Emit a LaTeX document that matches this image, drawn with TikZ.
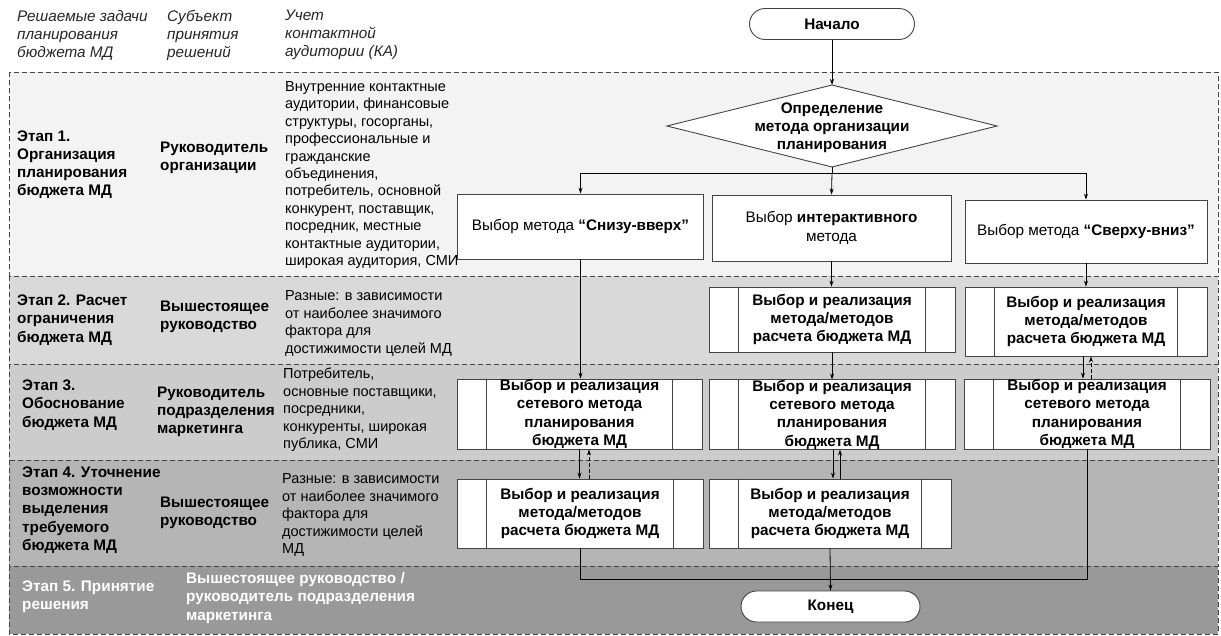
\documentclass[tikz,border=0pt]{standalone}
\usepackage{fontspec}
\setmainfont{Liberation Sans}
\usetikzlibrary{arrows.meta}
\definecolor{bandA}{HTML}{F3F3F3}
\definecolor{bandB}{HTML}{D9D9D9}
\definecolor{bandC}{HTML}{CCCCCC}
\definecolor{bandD}{HTML}{B5B5B5}
\definecolor{bandE}{HTML}{999999}
\definecolor{edge}{HTML}{444444}
\tikzset{
  band/.style={draw=edge, line width=0.8pt, dash pattern=on 5pt off 3pt},
  lefttxt/.style={anchor=west, inner sep=0pt, align=left, font=\fontsize{14.5}{17.45}\selectfont},
  leftbold/.style={lefttxt, font=\fontsize{15.3}{18.2}\selectfont\bfseries},
  headtxt/.style={lefttxt, text=black!85, font=\fontsize{15.3}{18}\selectfont\itshape},
  choicebox/.style={draw=edge, line width=0.9pt, fill=white, inner sep=2pt, align=center,
    font=\fontsize{15.3}{18.3}\selectfont},
  procbox/.style={choicebox, font=\fontsize{15.3}{18.3}\selectfont\bfseries},
  terminal/.style={draw=edge, line width=0.9pt, fill=white, rounded corners=15.5pt,
    font=\fontsize{15.3}{18}\selectfont\bfseries},
  conn/.style={draw=black, line width=0.8pt},
  arr/.style={conn, -{Stealth[length=6pt,width=4pt]}},
  darr/.style={arr, dash pattern=on 4pt off 2pt},
}
\begin{document}
\begin{tikzpicture}[x=1pt,y=-1pt]
\useasboundingbox (0,0) rectangle (1221,635);
\fill[white] (0,0) rectangle (1221,635);
% bands
\path[band, fill=bandA] (9,72) rectangle (1218,276);
\path[band, fill=bandB] (9,276) rectangle (1218,364);
\path[band, fill=bandC] (9,364) rectangle (1218,460);
\path[band, fill=bandD] (9,460) rectangle (1218,566);
\path[band, fill=bandE] (9,566) rectangle (1218,634);
% headers
\node[headtxt] (h1) at (17,35) {Решаемые задачи\\планирования\\бюджета МД};
\node[headtxt] (h2) at (167,35) {Субъект\\принятия\\решений};
\node[headtxt] (h3) at (285,35) {Учет\\контактной\\аудитории (КА)};
% band 1
\node[leftbold] (s1) at (17,164.5) {Этап 1.\\Организация\\планирования\\бюджета МД};
\node[leftbold] (p1) at (160,158) {Руководитель\\организации};
\node[lefttxt] (k1) at (285,175) {Внутренние контактные\\аудитории, финансовые\\структуры, госорганы,\\профессиональные и\\гражданские\\объединения,\\потребитель, основной\\конкурент, поставщик,\\посредник, местные\\контактные аудитории,\\широкая аудитория, СМИ};
% band 2
\node[leftbold] (s2) at (17,320) {Этап 2. Расчет\\ограничения\\бюджета МД};
\node[leftbold] (p2) at (160,317) {Вышестоящее\\руководство};
\node[lefttxt] (k2) at (285,323.5) {Разные: в зависимости\\от наиболее значимого\\фактора для\\достижимости целей МД};
% band 3
\node[leftbold] (s3) at (22,405) {Этап 3.\\Обоснование\\бюджета МД};
\node[leftbold] (p3) at (157,412) {Руководитель\\подразделения\\маркетинга};
\node[lefttxt] (k3) at (283,410) {Потребитель,\\основные поставщики,\\посредники,\\конкуренты, широкая\\публика, СМИ};
% band 4
\node[leftbold] (s4) at (22,510) {Этап 4. Уточнение\\возможности\\выделения\\требуемого\\бюджета МД};
\node[leftbold] (p4) at (160,513) {Вышестоящее\\руководство};
\node[lefttxt] (k4) at (282,515) {Разные: в зависимости\\от наиболее значимого\\фактора для\\достижимости целей\\МД};
% band 5
\node[leftbold, text=white] (s5) at (22,597) {Этап 5. Принятие\\решения};
\node[leftbold, text=white] (p5) at (186,598) {Вышестоящее руководство /\\руководитель подразделения\\маркетинга};
% flowchart
\node[terminal, minimum width=165pt, minimum height=31pt] (start) at (832,24) {Начало};
\coordinate (dtop) at (832,85);
\coordinate (dbot) at (832,167);
\coordinate (dleft) at (667,126);
\coordinate (dright) at (997,126);
\draw[draw=edge, line width=0.9pt, fill=white] (dtop) -- (dright) -- (dbot) -- (dleft) -- cycle;
\node[inner sep=0pt, align=center, font=\fontsize{15.3}{18}\selectfont\bfseries] (dec) at (832,128) {Определение\\метода организации\\планирования};
\node[choicebox, minimum width=246pt, minimum height=65pt] (A1) at (580.5,226.5) {Выбор метода \textbf{“Снизу-вверх”}};
\node[choicebox, minimum width=239pt, minimum height=66pt] (B1) at (831.5,228) {Выбор \textbf{интерактивного}\\метода};
\node[choicebox, minimum width=242pt, minimum height=63pt] (C1) at (1086,231.5) {Выбор метода \textbf{“Сверху-вниз”}};
\node[procbox, minimum width=246pt, minimum height=65pt] (B2) at (832,319.5) {Выбор и реализация\\метода/методов\\расчета бюджета МД};
\node[procbox, minimum width=242pt, minimum height=69pt] (C2) at (1086,321.5) {Выбор и реализация\\метода/методов\\расчета бюджета МД};
\node[procbox, minimum width=245pt, minimum height=70pt, inner sep=0pt] (A3) at (579.5,414) {Выбор и реализация\\сетевого метода\\планирования\\бюджета МД};
\node[procbox, minimum width=246pt, minimum height=69pt, inner sep=0pt] (B3) at (832,414.5) {Выбор и реализация\\сетевого метода\\планирования\\бюджета МД};
\node[procbox, minimum width=246pt, minimum height=70pt, inner sep=0pt] (C3) at (1087,414) {Выбор и реализация\\сетевого метода\\планирования\\бюджета МД};
\node[procbox, minimum width=246pt, minimum height=69pt] (A4) at (580,513.5) {Выбор и реализация\\метода/методов\\расчета бюджета МД};
\node[procbox, minimum width=242pt, minimum height=69pt] (B4) at (830,513.5) {Выбор и реализация\\метода/методов\\расчета бюджета МД};
\node[terminal, minimum width=179pt, minimum height=31pt] (finish) at (830.5,606.5) {Конец};
% side bars of process boxes
\foreach \n in {B2,C2,A3,B3,C3,A4,B4}{
  \draw[draw=edge, line width=0.9pt] ([xshift=30pt]\n.north west) -- ([xshift=30pt]\n.south west);
  \draw[draw=edge, line width=0.9pt] ([xshift=-30pt]\n.north east) -- ([xshift=-30pt]\n.south east);
}
% connectors
\draw[arr] (start.south) -- (dtop);
\coordinate (split) at (832,173);
\draw[conn] (dbot) -- (split);
\draw[arr] (split) -| (A1.north);
\draw[arr] (split) -| (C1.north);
\draw[arr] (split) -- (B1.north);
\draw[arr] (A1.south) -- (A1.south |- A3.north);
\draw[arr] (B1.south) -- (B1.south |- B2.north);
\draw[arr] (B2.south) -- (B2.south |- B3.north);
\draw[arr] (C1.south) -- (C1.south |- C2.north);
\draw[arr] ([xshift=-3pt]C2.south) -- ([xshift=-3pt]C2.south |- C3.north);
\draw[darr] ([xshift=4pt]C3.north) -- ([xshift=4pt]C3.north |- C2.south);
\draw[arr] (A3.south) -- (A3.south |- A4.north);
\draw[darr] ([xshift=9pt]A4.north) -- ([xshift=9pt]A4.north |- A3.south);
\draw[arr] ([xshift=1pt]B3.south) -- ([xshift=1pt]B3.south |- B4.north);
\draw[arr] ([xshift=10pt]B4.north) -- ([xshift=10pt]B4.north |- B3.south);
\coordinate (merge) at (830.5,579);
\draw[conn] (A4.south) |- (merge);
\draw[conn] (C3.south) |- (merge);
\draw[arr] (B4.south) -- (finish.north);
\end{tikzpicture}
\end{document}
